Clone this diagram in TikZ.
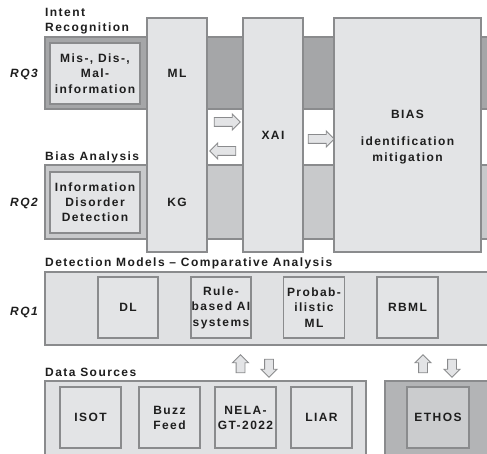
\documentclass[tikz,border=0pt]{standalone}
\usepackage{fontspec}
\setmainfont[LetterSpace=12]{Liberation Sans}
\usetikzlibrary{shapes.arrows}
\definecolor{boxfill}{HTML}{E3E4E6}
\definecolor{edge}{HTML}{8A8B8D}
\definecolor{darkband}{HTML}{A5A6A8}
\definecolor{midband}{HTML}{C8C9CB}
\definecolor{lightband}{HTML}{E0E1E3}
\definecolor{ethband}{HTML}{B3B4B6}
\definecolor{ethbox}{HTML}{CBCCCE}
\definecolor{ink}{HTML}{1E1E1E}
\tikzset{
  every node/.style={text=ink, font=\fontsize{12}{15.5}\selectfont\bfseries},
  band/.style={draw=edge, line width=1.1pt},
  mbox/.style={draw=edge, line width=1.1pt, fill=boxfill, inner sep=0pt, align=center},
  lbl/.style={anchor=base west, inner sep=0pt},
  rq/.style={anchor=base west, inner sep=0pt, font=\fontsize{12}{14}\selectfont\bfseries\itshape},
  barrow/.style={single arrow, draw=edge, fill=boxfill, line width=0.9pt, inner sep=4pt,
    minimum height=26pt, minimum width=15pt, single arrow head extend=3.5pt, single arrow head indent=0pt},
  varrow/.style={barrow, minimum height=18pt},
}
\begin{document}
\begin{tikzpicture}[x=1pt,y=-1pt]
\clip (0,0) rectangle (487,454);
\fill[white] (0,0) rectangle (487,454);
% bands
\draw[band, fill=darkband] (45,37) rectangle (495,109);
\draw[band, fill=midband] (45,165) rectangle (495,239);
\draw[band, fill=lightband] (45,272) rectangle (495,345);
\draw[band, fill=lightband] (45,381) rectangle (366,460);
\draw[band, fill=ethband] (385,381) rectangle (495,460);
% labels
\node[lbl] (lintent) at (45,17) {Intent};
\node[lbl] (lrecog) at (45,32) {Recognition};
\node[lbl] (lbias) at (45,161) {Bias Analysis};
\node[lbl] (ldet) at (45,267) {Detection Models -- Comparative Analysis};
\node[lbl] (ldata) at (45,376) {Data Sources};
\node[rq] (rq3) at (10,78) {RQ3};
\node[rq] (rq2) at (10,207) {RQ2};
\node[rq] (rq1) at (10,315) {RQ1};
% inner boxes
\node[mbox, minimum width=90pt, minimum height=61pt] (mis) at (95,73.5) {Mis-, Dis-,\\Mal-\\information};
\node[mbox, minimum width=90pt, minimum height=61pt, font=\fontsize{12}{15}\selectfont\bfseries] (info) at (95,202.5) {Information\\Disorder\\Detection};
% columns
\node[mbox, minimum width=60pt, minimum height=234pt] (mlkg) at (177,135) {};
\node (ml) at (177,73) {ML};
\node (kg) at (177,202) {KG};
\node[mbox, minimum width=60pt, minimum height=234pt] (xai) at (273,135) {XAI};
\node[mbox, minimum width=147pt, minimum height=234pt] (bias) at (407.5,135) {};
\node[align=center] (biastext) at (407.5,137) {BIAS\\[12pt]identification\\mitigation};
% arrows
\node[barrow] (a1) at (225,122) {};
\node[barrow, shape border rotate=180] (a2) at (225,151) {};
\node[barrow] (a3) at (319,139) {};
% RQ1 boxes
\node[mbox, minimum width=60pt, minimum height=61pt] (dl) at (128,307.5) {DL};
\node[mbox, minimum width=60pt, minimum height=61pt] (rule) at (221,307.5) {Rule-\\based AI\\systems};
\node[mbox, minimum width=61pt, minimum height=61pt] (prob) at (314,307.5) {Probab-\\ilistic\\ML};
\node[mbox, minimum width=61pt, minimum height=61pt] (rbml) at (407.5,307.5) {RBML};
% vertical arrows
\node[varrow, shape border rotate=90] (u1) at (240.5,366) {};
\node[varrow, shape border rotate=270] (d1) at (269,366) {};
\node[varrow, shape border rotate=90] (u2) at (423,366) {};
\node[varrow, shape border rotate=270] (d2) at (452,366) {};
% data boxes
\node[mbox, minimum width=61pt, minimum height=61pt] (isot) at (90.5,417.5) {ISOT};
\node[mbox, minimum width=61pt, minimum height=61pt, font=\fontsize{12}{15}\selectfont\bfseries] (buzz) at (169.5,417.5) {Buzz\\Feed};
\node[mbox, minimum width=61pt, minimum height=61pt, font=\fontsize{12}{15}\selectfont\bfseries] (nela) at (245.5,417.5) {NELA-\\GT-2022};
\node[mbox, minimum width=61pt, minimum height=61pt] (liar) at (321.5,417.5) {LIAR};
\node[mbox, fill=ethbox, minimum width=62pt, minimum height=61pt] (ethos) at (438,417.5) {ETHOS};
\end{tikzpicture}
\end{document}
